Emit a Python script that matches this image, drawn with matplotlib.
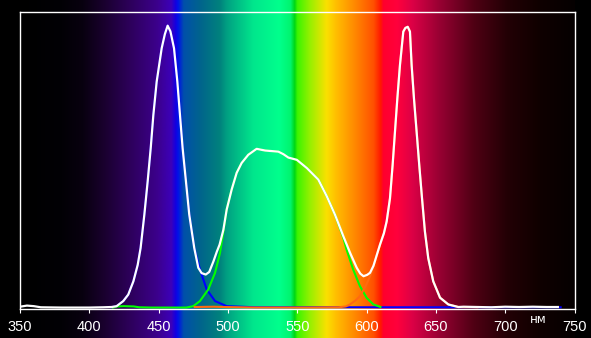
import numpy as np
import matplotlib
matplotlib.use("Agg")
import matplotlib.pyplot as plt

#%% spectrum data (relative intensity, blue peak = 1)
wl_white = [350, 355, 360, 365, 380, 400, 410, 416, 419.7, 424.5, 428.1, 431.8, 434.9,
            437.0, 439.7, 442.1, 444.3, 446.2, 448.6, 452.2, 454.5, 456.5, 458.5,
            461.1, 463.5, 465.4, 467.3, 469.7, 472.1, 475.7, 478.6, 481.0, 484.0,
            486.5, 489.5, 492.0, 494.0, 496.7, 499.1, 502.7, 506.3, 509.9, 514.7,
            520.7, 526.8, 536.4, 540.0, 543.6, 549.7, 556.9, 565.2, 571.3, 577.2,
            583.2, 588.1, 592.9, 595.5, 597.8, 600.5, 602.5, 605.0, 607.5, 609.7,
            612.5, 614.5, 616.9, 618.8, 620.5, 622.2, 624.1, 626.5, 628.0, 629.7,
            631.3, 632.5, 634.2, 636.1, 638.0, 640.0, 642.1, 644.5, 648.1, 653.0,
            659.0, 666.2, 670, 680, 690, 700, 710, 720, 730, 738]
white = [0.005, 0.009, 0.007, 0.003, 0.002, 0.002, 0.003, 0.004, 0.007, 0.025, 0.048,
         0.095, 0.153, 0.213, 0.331, 0.449, 0.567, 0.684, 0.802, 0.920, 0.970, 1.0,
         0.980, 0.920, 0.802, 0.684, 0.567, 0.449, 0.331, 0.213, 0.143, 0.124, 0.119,
         0.128, 0.165, 0.200, 0.225, 0.277, 0.349, 0.420, 0.479, 0.514, 0.543, 0.564,
         0.558, 0.554, 0.545, 0.533, 0.525, 0.496, 0.455, 0.396, 0.331, 0.255, 0.196,
         0.143, 0.122, 0.113, 0.118, 0.125, 0.150, 0.190, 0.225, 0.265, 0.307, 0.389,
         0.507, 0.625, 0.742, 0.861, 0.979, 0.992, 0.996, 0.979, 0.861, 0.742, 0.625,
         0.507, 0.389, 0.271, 0.177, 0.095, 0.037, 0.013, 0.004, 0.005, 0.004, 0.003,
         0.005, 0.004, 0.005, 0.004, 0.004]

wl_blue = [416, 419.7, 424.5, 428.1, 431.8, 434.9, 437.0, 439.7, 442.1, 444.3, 446.2,
           448.6, 452.2, 454.5, 456.5, 458.5, 461.1, 463.5, 465.4, 467.3, 469.7, 472.1,
           475.7, 479.8, 484.7, 490.7, 499.1, 520, 560, 600, 650, 700, 740]
blue = [0.003, 0.007, 0.025, 0.048, 0.095, 0.153, 0.213, 0.331, 0.449, 0.567, 0.684,
        0.802, 0.920, 0.970, 1.0, 0.980, 0.920, 0.802, 0.684, 0.567, 0.449, 0.331,
        0.213, 0.137, 0.066, 0.025, 0.007, 0.003, 0.003, 0.003, 0.003, 0.003, 0.003]

wl_green = [417, 420, 425, 432, 436, 445, 470, 475, 479.8, 485.8, 490.7, 494.3, 496.7,
            499.1, 502.7, 506.3, 509.9, 514.7, 520.7, 526.8, 536.4, 540.0, 543.6,
            549.7, 556.9, 565.2, 571.3, 577.2, 583.2, 585.6, 590.4, 595.2, 600.1,
            604.9, 608.5, 610]
green = [0.002, 0.006, 0.007, 0.006, 0.003, 0.002, 0.002, 0.007, 0.025, 0.066, 0.125,
         0.196, 0.270, 0.349, 0.420, 0.479, 0.514, 0.543, 0.564, 0.558, 0.554, 0.545,
         0.533, 0.525, 0.496, 0.455, 0.396, 0.331, 0.250, 0.207, 0.136, 0.078, 0.036,
         0.013, 0.007, 0.004]

wl_red = [476, 490, 497, 520, 560, 580, 585, 588, 592, 595.2, 599, 602.5, 605.0, 607.5,
          609.7, 612.5, 614.5, 616.9, 618.8, 620.5, 622.2, 624.1, 626.5, 628.0, 629.7,
          631.3, 632.5, 634.2, 636.1, 638.0, 640.0, 642.1, 644.5, 648.1, 653.0, 659.0,
          666.2, 680]
red = [0.004, 0.005, 0.004, 0.002, 0.002, 0.003, 0.006, 0.013, 0.027, 0.042, 0.075,
       0.113, 0.150, 0.190, 0.225, 0.265, 0.307, 0.389, 0.507, 0.625, 0.742, 0.861,
       0.979, 0.992, 0.996, 0.979, 0.861, 0.742, 0.625, 0.507, 0.389, 0.271, 0.177,
       0.095, 0.037, 0.013, 0.004, 0.003]

# background rainbow colour stops (nm -> rgb)
stop_nm = [350, 380, 395, 410, 429, 449, 459, 462, 464, 468, 480, 494, 499, 518, 537,
           545, 548, 550, 559, 571, 578, 593, 605, 610, 612, 622, 633, 653, 677, 701,
           725, 750]
stop_rgb = [(0, 0, 0), (2, 0, 5), (8, 0, 15), (25, 0, 45), (45, 0, 90), (60, 0, 140),
            (60, 0, 185), (20, 0, 225), (0, 20, 230), (0, 80, 170), (0, 100, 140),
            (0, 130, 125), (0, 160, 130), (0, 230, 140), (0, 255, 140), (0, 245, 110),
            (0, 215, 20), (60, 245, 0), (150, 240, 0), (250, 225, 0), (255, 190, 0),
            (255, 130, 0), (255, 80, 0), (255, 25, 0), (255, 0, 45), (255, 0, 60),
            (220, 0, 70), (150, 0, 50), (80, 0, 20), (35, 0, 5), (15, 0, 0), (5, 0, 0)]

xticks = [350, 400, 450, 500, 550, 600, 650, 700, 750]
unit_label = "нм"

#%% figure layout (pixels of a 591x338 image)
W, H = 591, 338
left, right, top, bottom = 20, 574.5, 12, 308.7
fig = plt.figure(figsize=(W / 100, H / 100), dpi=100, facecolor="black")

# rainbow behind everything, full height
bg = fig.add_axes([left / W, 0, (right - left) / W, 1])
grid = np.arange(350, 750.5, 0.5)
rgb = np.array(stop_rgb) / 255.0
img = np.stack([np.interp(grid, stop_nm, rgb[:, c]) for c in range(3)], axis=-1)
bg.imshow(img[np.newaxis, :, :], extent=[350, 750, 0, 1], aspect="auto",
          interpolation="bilinear")
bg.set_xlim(350, 750)
bg.set_ylim(0, 1)
bg.axis("off")

ax = fig.add_axes([left / W, (H - bottom) / H, (right - left) / W, (bottom - top) / H])
ax.set_facecolor("none")
peak_px = 283.0  # pixel height of the blue peak
ax.set_xlim(350, 750)
ax.set_ylim(-0.002, (bottom - top) / peak_px)

ax.plot(wl_blue, blue, color="#0000ff", lw=1.5)
ax.plot(wl_green, green, color="#00ff00", lw=1.5)
ax.plot(wl_red, red, color="#ff6a10", lw=1.5)
ax.plot(wl_white, white, color="white", lw=1.6)

for sp in ax.spines.values():
    sp.set_color("white")
    sp.set_linewidth(1.0)

ax.set_xticks(xticks)
ax.tick_params(axis="x", colors="white", direction="out", length=3, width=0.8,
               pad=5, labelsize=10.5)
for lab in ax.get_xticklabels():
    lab.set_family("Liberation Sans")
ax.set_yticks([])
ax.text(723.5, -0.04, unit_label, color="white", fontsize=8.5, ha="center", va="center")

fig.savefig("out.png", dpi=100, facecolor="black")
